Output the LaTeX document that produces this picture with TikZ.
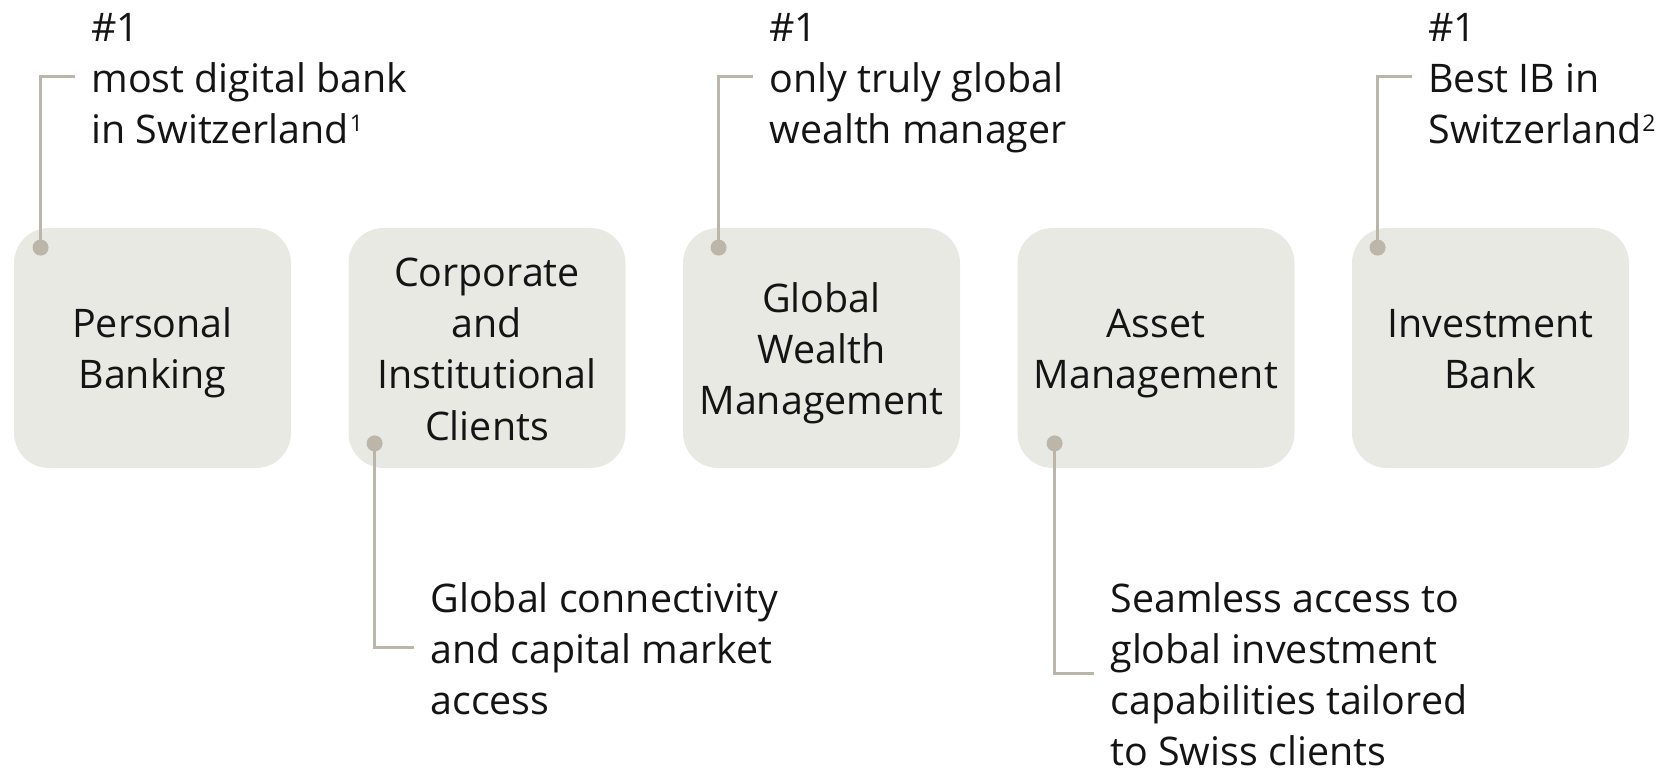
\documentclass[tikz,border=0pt]{standalone}
\usepackage{fontspec}
\setmainfont{Open Sans}
\usepackage{array}
\usetikzlibrary{positioning}

\definecolor{boxfill}{HTML}{E9E9E4}
\definecolor{linkcol}{HTML}{BBB6A9}
\definecolor{inkcol}{HTML}{141414}

% every text line gets the same height and depth, so blocks sit evenly
\newcommand\linestrut{\rule[-5pt]{0pt}{25.5pt}}
\newcolumntype{L}{>{\linestrut}l}
\newcolumntype{C}{>{\linestrut}c}
\renewcommand\arraystretch{0}
\setlength\tabcolsep{0pt}
% small raised footnote mark, its top level with the capitals
\newcommand\fnmark[1]{\kern0.5pt\raisebox{5.8pt}{\fontsize{11.5}{12}\selectfont #1}}

\tikzset{
  unitbox/.style={fill=boxfill, rounded corners=17.5pt, minimum width=138.5pt,
    minimum height=120pt, inner sep=0pt, text=inkcol,
    font=\fontsize{19.7}{25.5}\selectfont},
  note/.style={anchor=north west, inner sep=0pt, text=inkcol,
    font=\fontsize{19.7}{25.5}\selectfont},
  link/.style={draw=linkcol, line width=1.5pt},
  pin/.style={fill=linkcol}
}

\begin{document}
\begin{tikzpicture}[x=0.5pt, y=-0.5pt]
  \useasboundingbox (0,0) rectangle (1656,770);

  % business divisions
  \node[unitbox] (pb)  at (152.5,348)  {\begin{tabular}{C}Personal\\Banking\end{tabular}};
  \node[unitbox] (cic) at (487,348)    {\begin{tabular}{C}Corporate\\and\\Institutional\\Clients\end{tabular}};
  \node[unitbox] (gwm) at (821.5,348)  {\begin{tabular}{C}Global\\Wealth\\Management\end{tabular}};
  \node[unitbox] (am)  at (1156,348)   {\begin{tabular}{C}Asset\\Management\end{tabular}};
  \node[unitbox] (ib)  at (1490.5,348) {\begin{tabular}{C}Investment\\Bank\end{tabular}};

  % call-out texts
  \node[note] (pbnote)  at (91,0)    {\begin{tabular}{L}\#1\\most digital bank\\in Switzerland\fnmark{1}\end{tabular}};
  \node[note] (gwmnote) at (769,0)   {\begin{tabular}{L}\#1\\only truly global\\wealth manager\end{tabular}};
  \node[note] (ibnote)  at (1428,0)  {\begin{tabular}{L}\#1\\Best IB in\\Switzerland\fnmark{2}\end{tabular}};
  \node[note] (cicnote) at (430,571) {\begin{tabular}{L}Global connectivity\\and capital market\\access\end{tabular}};
  \node[note] (amnote)  at (1110,571) {\begin{tabular}{L}Seamless access to\\global investment\\capabilities tailored\\to Swiss clients\end{tabular}};

  % pin points inside the boxes
  \coordinate (pbdot)  at ([shift={(27,20)}]pb.north west);
  \coordinate (gwmdot) at ([shift={(36,20)}]gwm.north west);
  \coordinate (ibdot)  at ([shift={(26,20)}]ib.north west);
  \coordinate (cicdot) at ([shift={(26.5,-25)}]cic.south west);
  \coordinate (amdot)  at ([shift={(37.5,-25)}]am.south west);

  % elbow connectors from the pins to the call-outs
  \draw[link] (pbdot)  |- ([xshift=-8pt]pbnote.west);
  \draw[link] (gwmdot) |- ([xshift=-8pt]gwmnote.west);
  \draw[link] (ibdot)  |- ([xshift=-8pt]ibnote.west);
  \draw[link] (cicdot) |- ([xshift=-8pt]cicnote.west);
  \draw[link] (amdot)  |- ([xshift=-8pt]amnote.west);

  \foreach \d in {pbdot,gwmdot,ibdot,cicdot,amdot}
    \fill[pin] (\d) circle[radius=4pt];
\end{tikzpicture}
\end{document}
